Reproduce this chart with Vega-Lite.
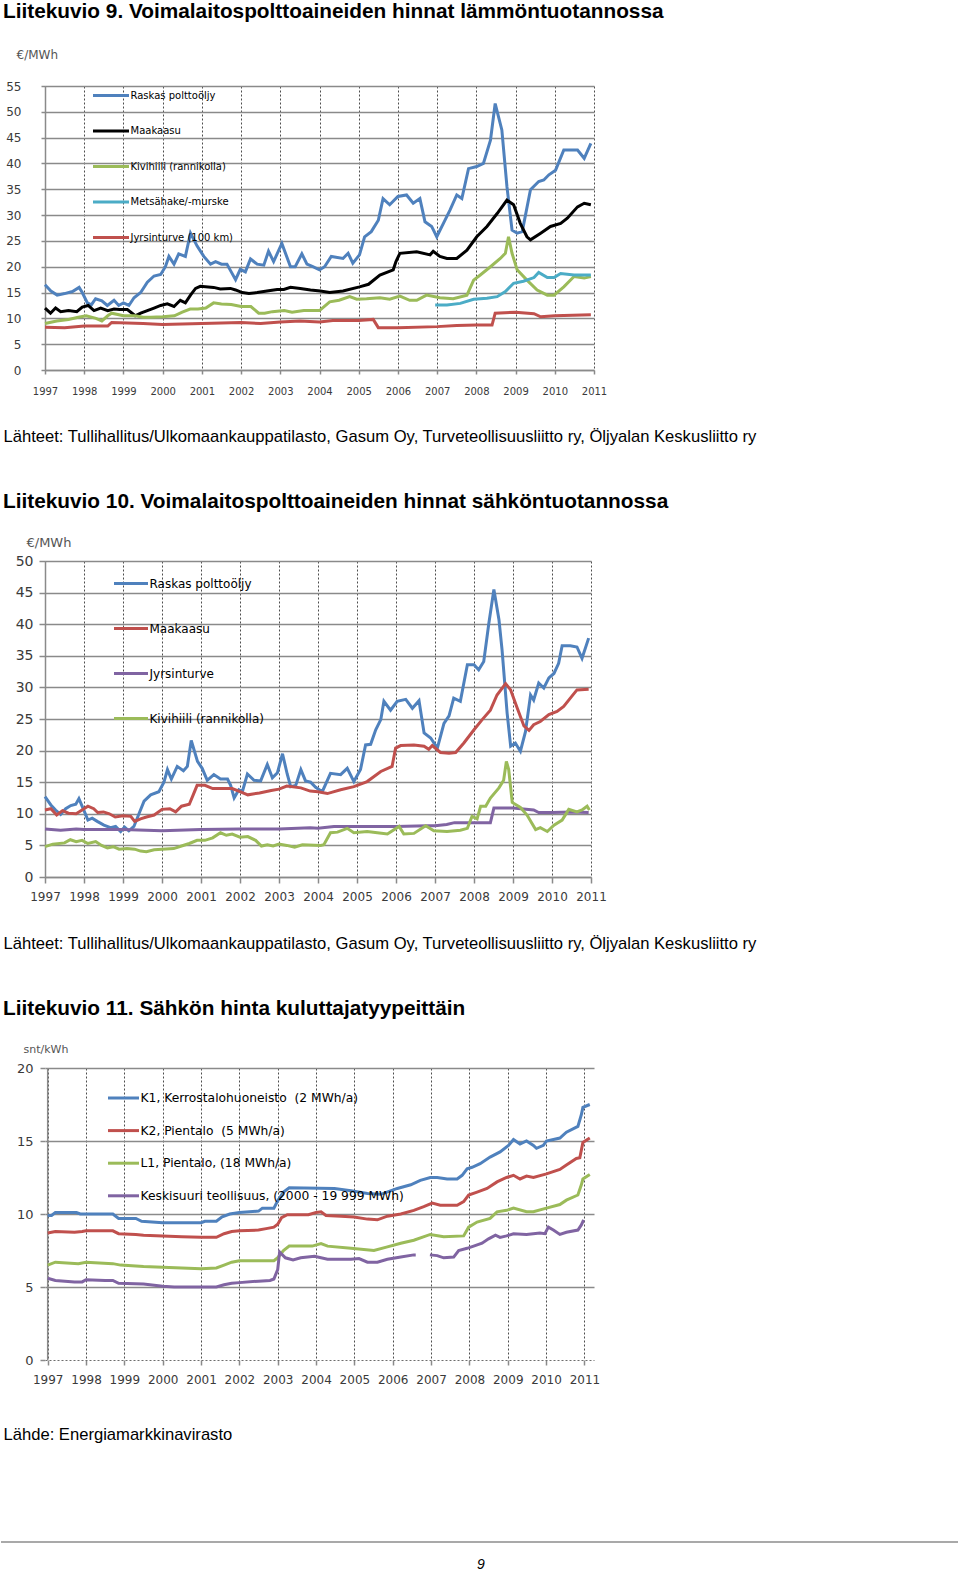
{
"$schema": "https://vega.github.io/schema/vega-lite/v6.json",
"background": "white",
"padding": {"left": 0, "top": 1, "right": 0, "bottom": 0},
"config": {
  "view": {"stroke": null},
  "font": "Liberation Sans",
  "title": {"anchor": "start", "frame": "group", "dx": -42, "font": "Liberation Sans", "fontSize": 20.8, "fontWeight": "bold", "color": "black", "offset": 22},
  "axis": {"labelFont": "DejaVu Sans", "labelColor": "#3a3a3a", "domainColor": "#8a8a8a", "domainWidth": 1.5, "tickColor": "#8a8a8a", "tickWidth": 1.5, "titleFont": "Liberation Sans", "titleFontWeight": "normal", "titleColor": "black"},
  "axisX": {"grid": true, "gridDash": [2, 2], "gridColor": "#4d4d4d", "gridWidth": 1, "labelAngle": 0, "labelFlush": false, "labelOverlap": false, "format": "d"},
  "axisY": {"grid": true, "gridColor": "#8a8a8a", "gridWidth": 1.5, "labelOverlap": false},
  "legend": {"orient": "none", "direction": "vertical", "title": null, "symbolType": "stroke", "symbolStrokeWidth": 3, "labelFont": "DejaVu Sans", "labelColor": "black", "labelOffset": 0, "labelLimit": 600, "symbolOffset": 0, "padding": 0, "offset": 0}
},
"datasets": {
"c1": [
{"s":"a","t":1997.0,"v":16.5},{"s":"a","t":1997.15,"v":15.3},{"s":"a","t":1997.31,"v":14.5},{"s":"a","t":1997.5,"v":14.8},{"s":"a","t":1997.7,"v":15.2},{"s":"a","t":1997.87,"v":16.0},{"s":"a","t":1997.95,"v":15.0},{"s":"a","t":1998.08,"v":13.0},{"s":"a","t":1998.18,"v":12.6},{"s":"a","t":1998.29,"v":13.8},{"s":"a","t":1998.45,"v":13.4},{"s":"a","t":1998.59,"v":12.5},{"s":"a","t":1998.76,"v":13.5},{"s":"a","t":1998.88,"v":12.5},{"s":"a","t":1999.0,"v":13.0},{"s":"a","t":1999.14,"v":12.5},{"s":"a","t":1999.27,"v":14.0},{"s":"a","t":1999.44,"v":15.0},{"s":"a","t":1999.61,"v":17.0},{"s":"a","t":1999.78,"v":18.2},{"s":"a","t":1999.95,"v":18.5},{"s":"a","t":2000.07,"v":20.0},{"s":"a","t":2000.16,"v":22.0},{"s":"a","t":2000.29,"v":20.5},{"s":"a","t":2000.41,"v":22.5},{"s":"a","t":2000.58,"v":22.0},{"s":"a","t":2000.71,"v":26.5},{"s":"a","t":2000.88,"v":24.0},{"s":"a","t":2001.05,"v":22.0},{"s":"a","t":2001.22,"v":20.5},{"s":"a","t":2001.35,"v":21.0},{"s":"a","t":2001.5,"v":20.5},{"s":"a","t":2001.64,"v":20.5},{"s":"a","t":2001.86,"v":17.5},{"s":"a","t":2001.98,"v":19.5},{"s":"a","t":2002.11,"v":19.0},{"s":"a","t":2002.24,"v":21.5},{"s":"a","t":2002.41,"v":20.5},{"s":"a","t":2002.58,"v":20.3},{"s":"a","t":2002.7,"v":23.0},{"s":"a","t":2002.83,"v":21.0},{"s":"a","t":2003.04,"v":24.5},{"s":"a","t":2003.26,"v":20.0},{"s":"a","t":2003.38,"v":20.0},{"s":"a","t":2003.55,"v":22.5},{"s":"a","t":2003.68,"v":20.5},{"s":"a","t":2003.83,"v":20.0},{"s":"a","t":2004.0,"v":19.4},{"s":"a","t":2004.13,"v":20.0},{"s":"a","t":2004.3,"v":22.0},{"s":"a","t":2004.6,"v":21.6},{"s":"a","t":2004.73,"v":22.6},{"s":"a","t":2004.85,"v":20.7},{"s":"a","t":2005.02,"v":22.3},{"s":"a","t":2005.15,"v":25.8},{"s":"a","t":2005.32,"v":26.8},{"s":"a","t":2005.5,"v":29.0},{"s":"a","t":2005.62,"v":33.2},{"s":"a","t":2005.79,"v":32.0},{"s":"a","t":2006.0,"v":33.6},{"s":"a","t":2006.22,"v":33.9},{"s":"a","t":2006.39,"v":32.3},{"s":"a","t":2006.56,"v":33.2},{"s":"a","t":2006.69,"v":28.7},{"s":"a","t":2006.86,"v":27.8},{"s":"a","t":2006.99,"v":25.8},{"s":"a","t":2007.16,"v":28.4},{"s":"a","t":2007.33,"v":31.0},{"s":"a","t":2007.5,"v":33.9},{"s":"a","t":2007.63,"v":33.2},{"s":"a","t":2007.8,"v":39.0},{"s":"a","t":2008.01,"v":39.4},{"s":"a","t":2008.18,"v":40.0},{"s":"a","t":2008.36,"v":44.5},{"s":"a","t":2008.48,"v":51.6},{"s":"a","t":2008.65,"v":46.5},{"s":"a","t":2008.78,"v":35.5},{"s":"a","t":2008.91,"v":27.1},{"s":"a","t":2009.04,"v":26.5},{"s":"a","t":2009.17,"v":26.8},{"s":"a","t":2009.38,"v":34.9},{"s":"a","t":2009.59,"v":36.5},{"s":"a","t":2009.72,"v":36.8},{"s":"a","t":2009.85,"v":37.8},{"s":"a","t":2010.02,"v":38.7},{"s":"a","t":2010.23,"v":42.6},{"s":"a","t":2010.58,"v":42.6},{"s":"a","t":2010.75,"v":41.0},{"s":"a","t":2010.92,"v":43.9},
{"s":"b","t":1997.0,"v":12.0},{"s":"b","t":1997.14,"v":11.0},{"s":"b","t":1997.27,"v":12.0},{"s":"b","t":1997.4,"v":11.3},{"s":"b","t":1997.6,"v":11.5},{"s":"b","t":1997.81,"v":11.3},{"s":"b","t":1997.95,"v":12.2},{"s":"b","t":1998.1,"v":12.5},{"s":"b","t":1998.25,"v":11.5},{"s":"b","t":1998.42,"v":12.0},{"s":"b","t":1998.6,"v":11.5},{"s":"b","t":1998.76,"v":11.8},{"s":"b","t":1998.9,"v":11.7},{"s":"b","t":1999.1,"v":11.7},{"s":"b","t":1999.22,"v":11.0},{"s":"b","t":1999.3,"v":10.5},{"s":"b","t":1999.44,"v":11.0},{"s":"b","t":1999.61,"v":11.5},{"s":"b","t":1999.78,"v":12.0},{"s":"b","t":1999.95,"v":12.5},{"s":"b","t":2000.12,"v":12.8},{"s":"b","t":2000.29,"v":12.3},{"s":"b","t":2000.45,"v":13.5},{"s":"b","t":2000.58,"v":13.0},{"s":"b","t":2000.71,"v":14.5},{"s":"b","t":2000.84,"v":15.8},{"s":"b","t":2000.96,"v":16.2},{"s":"b","t":2001.3,"v":16.0},{"s":"b","t":2001.47,"v":15.7},{"s":"b","t":2001.73,"v":15.8},{"s":"b","t":2001.86,"v":15.5},{"s":"b","t":2002.03,"v":15.0},{"s":"b","t":2002.2,"v":14.8},{"s":"b","t":2002.41,"v":15.0},{"s":"b","t":2002.66,"v":15.3},{"s":"b","t":2002.92,"v":15.6},{"s":"b","t":2003.09,"v":15.6},{"s":"b","t":2003.26,"v":16.0},{"s":"b","t":2003.51,"v":15.8},{"s":"b","t":2003.77,"v":15.5},{"s":"b","t":2004.02,"v":15.3},{"s":"b","t":2004.26,"v":15.0},{"s":"b","t":2004.6,"v":15.3},{"s":"b","t":2005.02,"v":16.1},{"s":"b","t":2005.25,"v":16.6},{"s":"b","t":2005.54,"v":18.4},{"s":"b","t":2005.88,"v":19.4},{"s":"b","t":2005.95,"v":21.0},{"s":"b","t":2006.05,"v":22.6},{"s":"b","t":2006.48,"v":22.9},{"s":"b","t":2006.82,"v":22.3},{"s":"b","t":2006.9,"v":23.0},{"s":"b","t":2007.07,"v":22.0},{"s":"b","t":2007.25,"v":21.6},{"s":"b","t":2007.5,"v":21.6},{"s":"b","t":2007.76,"v":23.2},{"s":"b","t":2008.01,"v":25.8},{"s":"b","t":2008.27,"v":27.8},{"s":"b","t":2008.53,"v":30.3},{"s":"b","t":2008.78,"v":32.9},{"s":"b","t":2008.95,"v":32.0},{"s":"b","t":2009.12,"v":28.4},{"s":"b","t":2009.29,"v":25.8},{"s":"b","t":2009.38,"v":25.2},{"s":"b","t":2009.64,"v":26.5},{"s":"b","t":2009.89,"v":27.8},{"s":"b","t":2010.15,"v":28.4},{"s":"b","t":2010.32,"v":29.4},{"s":"b","t":2010.58,"v":31.6},{"s":"b","t":2010.75,"v":32.3},{"s":"b","t":2010.92,"v":32.0},
{"s":"c","t":1997.0,"v":9.0},{"s":"c","t":1997.3,"v":9.5},{"s":"c","t":1997.6,"v":9.8},{"s":"c","t":1997.85,"v":10.2},{"s":"c","t":1998.05,"v":10.5},{"s":"c","t":1998.3,"v":10.0},{"s":"c","t":1998.45,"v":9.5},{"s":"c","t":1998.6,"v":10.5},{"s":"c","t":1998.7,"v":11.0},{"s":"c","t":1999.0,"v":10.5},{"s":"c","t":1999.3,"v":10.5},{"s":"c","t":1999.5,"v":10.2},{"s":"c","t":1999.7,"v":10.2},{"s":"c","t":2000.0,"v":10.3},{"s":"c","t":2000.3,"v":10.5},{"s":"c","t":2000.5,"v":11.2},{"s":"c","t":2000.7,"v":11.8},{"s":"c","t":2000.9,"v":11.8},{"s":"c","t":2001.1,"v":12.0},{"s":"c","t":2001.3,"v":13.0},{"s":"c","t":2001.5,"v":12.8},{"s":"c","t":2001.75,"v":12.7},{"s":"c","t":2002.0,"v":12.3},{"s":"c","t":2002.25,"v":12.3},{"s":"c","t":2002.45,"v":11.0},{"s":"c","t":2002.6,"v":11.0},{"s":"c","t":2002.8,"v":11.3},{"s":"c","t":2003.1,"v":11.5},{"s":"c","t":2003.3,"v":11.2},{"s":"c","t":2003.6,"v":11.5},{"s":"c","t":2004.0,"v":11.5},{"s":"c","t":2004.26,"v":13.2},{"s":"c","t":2004.5,"v":13.5},{"s":"c","t":2004.77,"v":14.2},{"s":"c","t":2004.95,"v":13.7},{"s":"c","t":2005.2,"v":13.8},{"s":"c","t":2005.54,"v":14.0},{"s":"c","t":2005.79,"v":13.7},{"s":"c","t":2006.05,"v":14.3},{"s":"c","t":2006.3,"v":13.5},{"s":"c","t":2006.48,"v":13.5},{"s":"c","t":2006.73,"v":14.5},{"s":"c","t":2007.07,"v":14.0},{"s":"c","t":2007.41,"v":13.8},{"s":"c","t":2007.76,"v":14.5},{"s":"c","t":2007.93,"v":17.4},{"s":"c","t":2008.1,"v":18.4},{"s":"c","t":2008.36,"v":20.0},{"s":"c","t":2008.61,"v":21.6},{"s":"c","t":2008.74,"v":22.6},{"s":"c","t":2008.82,"v":25.8},{"s":"c","t":2008.91,"v":22.6},{"s":"c","t":2009.04,"v":19.4},{"s":"c","t":2009.29,"v":17.4},{"s":"c","t":2009.55,"v":15.5},{"s":"c","t":2009.81,"v":14.5},{"s":"c","t":2009.98,"v":14.5},{"s":"c","t":2010.23,"v":16.1},{"s":"c","t":2010.49,"v":18.1},{"s":"c","t":2010.75,"v":17.8},{"s":"c","t":2010.92,"v":18.1},
{"s":"d","t":2006.95,"v":12.6},{"s":"d","t":2007.25,"v":12.6},{"s":"d","t":2007.59,"v":12.9},{"s":"d","t":2007.93,"v":13.7},{"s":"d","t":2008.27,"v":13.9},{"s":"d","t":2008.53,"v":14.2},{"s":"d","t":2008.74,"v":15.2},{"s":"d","t":2008.95,"v":16.8},{"s":"d","t":2009.2,"v":17.2},{"s":"d","t":2009.47,"v":17.9},{"s":"d","t":2009.59,"v":18.9},{"s":"d","t":2009.81,"v":17.9},{"s":"d","t":2009.98,"v":17.9},{"s":"d","t":2010.15,"v":18.7},{"s":"d","t":2010.49,"v":18.4},{"s":"d","t":2010.92,"v":18.4},
{"s":"e","t":1997.0,"v":8.3},{"s":"e","t":1997.5,"v":8.2},{"s":"e","t":1998.0,"v":8.5},{"s":"e","t":1998.6,"v":8.5},{"s":"e","t":1998.7,"v":9.2},{"s":"e","t":1999.5,"v":9.0},{"s":"e","t":2000.0,"v":8.8},{"s":"e","t":2001.0,"v":9.0},{"s":"e","t":2002.0,"v":9.2},{"s":"e","t":2002.5,"v":9.0},{"s":"e","t":2003.0,"v":9.3},{"s":"e","t":2003.5,"v":9.5},{"s":"e","t":2004.0,"v":9.3},{"s":"e","t":2004.34,"v":9.6},{"s":"e","t":2005.0,"v":9.6},{"s":"e","t":2005.37,"v":9.8},{"s":"e","t":2005.5,"v":8.2},{"s":"e","t":2006.0,"v":8.2},{"s":"e","t":2007.0,"v":8.4},{"s":"e","t":2007.5,"v":8.6},{"s":"e","t":2008.0,"v":8.7},{"s":"e","t":2008.4,"v":8.7},{"s":"e","t":2008.48,"v":11.0},{"s":"e","t":2009.0,"v":11.2},{"s":"e","t":2009.47,"v":10.9},{"s":"e","t":2009.64,"v":10.3},{"s":"e","t":2010.0,"v":10.5},{"s":"e","t":2010.92,"v":10.7}
],
"c2": [
{"s":"a","t":1997.0,"v":12.7},{"s":"a","t":1997.15,"v":11.4},{"s":"a","t":1997.27,"v":10.6},{"s":"a","t":1997.4,"v":9.9},{"s":"a","t":1997.53,"v":10.8},{"s":"a","t":1997.66,"v":11.3},{"s":"a","t":1997.79,"v":11.5},{"s":"a","t":1997.87,"v":12.4},{"s":"a","t":1998.0,"v":10.5},{"s":"a","t":1998.1,"v":9.0},{"s":"a","t":1998.21,"v":9.3},{"s":"a","t":1998.34,"v":8.8},{"s":"a","t":1998.51,"v":8.2},{"s":"a","t":1998.68,"v":7.8},{"s":"a","t":1998.81,"v":8.0},{"s":"a","t":1998.94,"v":7.2},{"s":"a","t":1999.04,"v":7.9},{"s":"a","t":1999.15,"v":7.3},{"s":"a","t":1999.28,"v":8.0},{"s":"a","t":1999.41,"v":10.0},{"s":"a","t":1999.54,"v":12.0},{"s":"a","t":1999.71,"v":13.0},{"s":"a","t":1999.92,"v":13.5},{"s":"a","t":2000.05,"v":15.0},{"s":"a","t":2000.14,"v":17.0},{"s":"a","t":2000.24,"v":15.5},{"s":"a","t":2000.39,"v":17.5},{"s":"a","t":2000.55,"v":16.8},{"s":"a","t":2000.65,"v":17.5},{"s":"a","t":2000.75,"v":21.6},{"s":"a","t":2000.91,"v":18.3},{"s":"a","t":2001.03,"v":17.2},{"s":"a","t":2001.16,"v":15.3},{"s":"a","t":2001.33,"v":16.2},{"s":"a","t":2001.5,"v":15.5},{"s":"a","t":2001.68,"v":15.5},{"s":"a","t":2001.76,"v":14.5},{"s":"a","t":2001.85,"v":12.5},{"s":"a","t":2001.97,"v":13.8},{"s":"a","t":2002.06,"v":13.5},{"s":"a","t":2002.19,"v":16.3},{"s":"a","t":2002.36,"v":15.3},{"s":"a","t":2002.53,"v":15.2},{"s":"a","t":2002.7,"v":17.8},{"s":"a","t":2002.83,"v":15.7},{"s":"a","t":2002.96,"v":16.5},{"s":"a","t":2003.09,"v":19.5},{"s":"a","t":2003.21,"v":16.3},{"s":"a","t":2003.3,"v":14.3},{"s":"a","t":2003.43,"v":14.5},{"s":"a","t":2003.56,"v":17.0},{"s":"a","t":2003.68,"v":15.2},{"s":"a","t":2003.81,"v":15.0},{"s":"a","t":2003.94,"v":14.2},{"s":"a","t":2004.11,"v":13.5},{"s":"a","t":2004.32,"v":16.4},{"s":"a","t":2004.58,"v":16.2},{"s":"a","t":2004.75,"v":17.2},{"s":"a","t":2004.92,"v":15.1},{"s":"a","t":2005.09,"v":17.0},{"s":"a","t":2005.22,"v":20.9},{"s":"a","t":2005.35,"v":21.0},{"s":"a","t":2005.48,"v":23.3},{"s":"a","t":2005.61,"v":24.9},{"s":"a","t":2005.69,"v":27.8},{"s":"a","t":2005.86,"v":26.4},{"s":"a","t":2006.03,"v":27.8},{"s":"a","t":2006.25,"v":28.1},{"s":"a","t":2006.42,"v":26.7},{"s":"a","t":2006.59,"v":27.9},{"s":"a","t":2006.72,"v":22.8},{"s":"a","t":2006.89,"v":22.0},{"s":"a","t":2007.06,"v":20.4},{"s":"a","t":2007.23,"v":24.3},{"s":"a","t":2007.36,"v":25.5},{"s":"a","t":2007.48,"v":28.3},{"s":"a","t":2007.65,"v":27.8},{"s":"a","t":2007.83,"v":33.6},{"s":"a","t":2008.0,"v":33.6},{"s":"a","t":2008.12,"v":32.8},{"s":"a","t":2008.25,"v":34.1},{"s":"a","t":2008.38,"v":40.1},{"s":"a","t":2008.51,"v":45.5},{"s":"a","t":2008.64,"v":40.7},{"s":"a","t":2008.72,"v":35.9},{"s":"a","t":2008.85,"v":25.9},{"s":"a","t":2008.94,"v":20.7},{"s":"a","t":2009.06,"v":21.2},{"s":"a","t":2009.19,"v":19.9},{"s":"a","t":2009.32,"v":23.0},{"s":"a","t":2009.45,"v":28.8},{"s":"a","t":2009.53,"v":28.0},{"s":"a","t":2009.66,"v":30.7},{"s":"a","t":2009.79,"v":29.9},{"s":"a","t":2009.92,"v":31.5},{"s":"a","t":2010.05,"v":32.2},{"s":"a","t":2010.17,"v":33.8},{"s":"a","t":2010.26,"v":36.6},{"s":"a","t":2010.47,"v":36.6},{"s":"a","t":2010.64,"v":36.4},{"s":"a","t":2010.77,"v":34.6},{"s":"a","t":2010.94,"v":37.8},
{"s":"b","t":1997.0,"v":10.6},{"s":"b","t":1997.15,"v":10.8},{"s":"b","t":1997.3,"v":9.8},{"s":"b","t":1997.45,"v":10.5},{"s":"b","t":1997.6,"v":10.1},{"s":"b","t":1997.8,"v":10.0},{"s":"b","t":1998.0,"v":10.8},{"s":"b","t":1998.1,"v":11.2},{"s":"b","t":1998.25,"v":10.8},{"s":"b","t":1998.35,"v":10.2},{"s":"b","t":1998.5,"v":10.3},{"s":"b","t":1998.65,"v":10.0},{"s":"b","t":1998.8,"v":9.5},{"s":"b","t":1999.0,"v":9.7},{"s":"b","t":1999.2,"v":9.6},{"s":"b","t":1999.3,"v":8.8},{"s":"b","t":1999.45,"v":9.2},{"s":"b","t":1999.6,"v":9.5},{"s":"b","t":1999.8,"v":9.8},{"s":"b","t":2000.0,"v":10.7},{"s":"b","t":2000.2,"v":10.8},{"s":"b","t":2000.35,"v":10.3},{"s":"b","t":2000.5,"v":11.2},{"s":"b","t":2000.7,"v":11.5},{"s":"b","t":2000.8,"v":13.0},{"s":"b","t":2000.9,"v":14.5},{"s":"b","t":2001.1,"v":14.5},{"s":"b","t":2001.3,"v":14.0},{"s":"b","t":2001.6,"v":14.0},{"s":"b","t":2001.8,"v":14.0},{"s":"b","t":2002.0,"v":13.5},{"s":"b","t":2002.2,"v":13.0},{"s":"b","t":2002.5,"v":13.3},{"s":"b","t":2002.8,"v":13.7},{"s":"b","t":2003.0,"v":13.9},{"s":"b","t":2003.2,"v":14.4},{"s":"b","t":2003.56,"v":14.1},{"s":"b","t":2003.8,"v":13.6},{"s":"b","t":2004.0,"v":13.5},{"s":"b","t":2004.24,"v":13.2},{"s":"b","t":2004.58,"v":13.8},{"s":"b","t":2004.92,"v":14.3},{"s":"b","t":2005.26,"v":15.1},{"s":"b","t":2005.61,"v":16.7},{"s":"b","t":2005.9,"v":17.5},{"s":"b","t":2005.99,"v":20.4},{"s":"b","t":2006.12,"v":20.8},{"s":"b","t":2006.46,"v":20.9},{"s":"b","t":2006.72,"v":20.7},{"s":"b","t":2006.84,"v":20.2},{"s":"b","t":2006.93,"v":20.8},{"s":"b","t":2007.14,"v":19.7},{"s":"b","t":2007.36,"v":19.6},{"s":"b","t":2007.53,"v":19.7},{"s":"b","t":2007.74,"v":21.2},{"s":"b","t":2008.0,"v":23.3},{"s":"b","t":2008.21,"v":24.9},{"s":"b","t":2008.42,"v":26.4},{"s":"b","t":2008.59,"v":28.8},{"s":"b","t":2008.81,"v":30.6},{"s":"b","t":2008.94,"v":29.6},{"s":"b","t":2009.11,"v":26.7},{"s":"b","t":2009.28,"v":23.9},{"s":"b","t":2009.41,"v":23.2},{"s":"b","t":2009.53,"v":24.1},{"s":"b","t":2009.7,"v":24.6},{"s":"b","t":2009.92,"v":25.7},{"s":"b","t":2010.13,"v":26.2},{"s":"b","t":2010.3,"v":27.0},{"s":"b","t":2010.47,"v":28.3},{"s":"b","t":2010.64,"v":29.6},{"s":"b","t":2010.94,"v":29.7},
{"s":"c","t":1997.0,"v":7.6},{"s":"c","t":1997.4,"v":7.4},{"s":"c","t":1997.8,"v":7.6},{"s":"c","t":1998.0,"v":7.5},{"s":"c","t":1999.0,"v":7.5},{"s":"c","t":2000.0,"v":7.3},{"s":"c","t":2001.0,"v":7.5},{"s":"c","t":2002.0,"v":7.6},{"s":"c","t":2003.0,"v":7.6},{"s":"c","t":2003.8,"v":7.8},{"s":"c","t":2004.0,"v":7.7},{"s":"c","t":2004.41,"v":8.0},{"s":"c","t":2005.0,"v":8.0},{"s":"c","t":2006.0,"v":8.0},{"s":"c","t":2006.8,"v":8.1},{"s":"c","t":2007.0,"v":8.1},{"s":"c","t":2007.3,"v":8.3},{"s":"c","t":2007.5,"v":8.6},{"s":"c","t":2008.42,"v":8.6},{"s":"c","t":2008.51,"v":10.9},{"s":"c","t":2009.0,"v":10.9},{"s":"c","t":2009.53,"v":10.6},{"s":"c","t":2009.66,"v":10.2},{"s":"c","t":2010.0,"v":10.2},{"s":"c","t":2010.5,"v":10.3},{"s":"c","t":2010.94,"v":10.2},
{"s":"d","t":1997.0,"v":4.8},{"s":"d","t":1997.2,"v":5.2},{"s":"d","t":1997.5,"v":5.4},{"s":"d","t":1997.65,"v":5.9},{"s":"d","t":1997.8,"v":5.6},{"s":"d","t":1997.95,"v":5.8},{"s":"d","t":1998.1,"v":5.3},{"s":"d","t":1998.3,"v":5.6},{"s":"d","t":1998.45,"v":5.0},{"s":"d","t":1998.6,"v":4.6},{"s":"d","t":1998.75,"v":4.8},{"s":"d","t":1998.9,"v":4.4},{"s":"d","t":1999.1,"v":4.5},{"s":"d","t":1999.3,"v":4.4},{"s":"d","t":1999.45,"v":4.1},{"s":"d","t":1999.6,"v":4.0},{"s":"d","t":1999.8,"v":4.3},{"s":"d","t":2000.0,"v":4.4},{"s":"d","t":2000.3,"v":4.5},{"s":"d","t":2000.5,"v":4.9},{"s":"d","t":2000.7,"v":5.3},{"s":"d","t":2000.9,"v":5.8},{"s":"d","t":2001.1,"v":5.8},{"s":"d","t":2001.3,"v":6.2},{"s":"d","t":2001.5,"v":7.0},{"s":"d","t":2001.65,"v":6.6},{"s":"d","t":2001.8,"v":6.8},{"s":"d","t":2002.0,"v":6.3},{"s":"d","t":2002.2,"v":6.4},{"s":"d","t":2002.4,"v":5.8},{"s":"d","t":2002.55,"v":4.9},{"s":"d","t":2002.7,"v":5.1},{"s":"d","t":2002.85,"v":4.9},{"s":"d","t":2003.0,"v":5.2},{"s":"d","t":2003.2,"v":5.0},{"s":"d","t":2003.4,"v":4.7},{"s":"d","t":2003.6,"v":5.1},{"s":"d","t":2004.07,"v":5.0},{"s":"d","t":2004.15,"v":5.1},{"s":"d","t":2004.32,"v":7.0},{"s":"d","t":2004.5,"v":7.1},{"s":"d","t":2004.75,"v":7.7},{"s":"d","t":2004.92,"v":7.0},{"s":"d","t":2005.26,"v":7.2},{"s":"d","t":2005.52,"v":7.0},{"s":"d","t":2005.78,"v":6.8},{"s":"d","t":2006.08,"v":8.0},{"s":"d","t":2006.2,"v":6.8},{"s":"d","t":2006.46,"v":6.9},{"s":"d","t":2006.76,"v":8.1},{"s":"d","t":2006.97,"v":7.3},{"s":"d","t":2007.31,"v":7.2},{"s":"d","t":2007.65,"v":7.4},{"s":"d","t":2007.83,"v":7.7},{"s":"d","t":2007.95,"v":9.6},{"s":"d","t":2008.08,"v":9.2},{"s":"d","t":2008.17,"v":11.2},{"s":"d","t":2008.3,"v":11.2},{"s":"d","t":2008.42,"v":12.5},{"s":"d","t":2008.64,"v":14.1},{"s":"d","t":2008.76,"v":15.3},{"s":"d","t":2008.83,"v":18.3},{"s":"d","t":2008.89,"v":17.0},{"s":"d","t":2008.98,"v":11.8},{"s":"d","t":2009.19,"v":11.0},{"s":"d","t":2009.36,"v":9.8},{"s":"d","t":2009.58,"v":7.5},{"s":"d","t":2009.7,"v":7.8},{"s":"d","t":2009.88,"v":7.2},{"s":"d","t":2010.05,"v":8.2},{"s":"d","t":2010.26,"v":9.0},{"s":"d","t":2010.43,"v":10.7},{"s":"d","t":2010.64,"v":10.3},{"s":"d","t":2010.77,"v":10.6},{"s":"d","t":2010.9,"v":11.2},{"s":"d","t":2010.96,"v":10.6}
],
"c3": [
{"s":"a","t":1997.0,"v":9.9},{"s":"a","t":1997.1,"v":9.9},{"s":"a","t":1997.2,"v":10.1},{"s":"a","t":1997.75,"v":10.1},{"s":"a","t":1997.85,"v":10.0},{"s":"a","t":1998.7,"v":10.0},{"s":"a","t":1998.85,"v":9.7},{"s":"a","t":1999.3,"v":9.7},{"s":"a","t":1999.45,"v":9.5},{"s":"a","t":2000.0,"v":9.4},{"s":"a","t":2001.0,"v":9.4},{"s":"a","t":2001.1,"v":9.5},{"s":"a","t":2001.4,"v":9.5},{"s":"a","t":2001.55,"v":9.8},{"s":"a","t":2001.75,"v":10.0},{"s":"a","t":2002.0,"v":10.1},{"s":"a","t":2002.5,"v":10.2},{"s":"a","t":2002.6,"v":10.4},{"s":"a","t":2002.9,"v":10.4},{"s":"a","t":2003.0,"v":10.9},{"s":"a","t":2003.15,"v":11.5},{"s":"a","t":2003.3,"v":11.8},{"s":"a","t":2004.48,"v":11.75},{"s":"a","t":2004.91,"v":11.6},{"s":"a","t":2005.34,"v":11.4},{"s":"a","t":2005.69,"v":11.35},{"s":"a","t":2006.12,"v":11.75},{"s":"a","t":2006.47,"v":12.0},{"s":"a","t":2006.72,"v":12.3},{"s":"a","t":2006.98,"v":12.5},{"s":"a","t":2007.16,"v":12.5},{"s":"a","t":2007.42,"v":12.4},{"s":"a","t":2007.68,"v":12.4},{"s":"a","t":2007.81,"v":12.65},{"s":"a","t":2007.94,"v":13.1},{"s":"a","t":2008.07,"v":13.2},{"s":"a","t":2008.28,"v":13.45},{"s":"a","t":2008.54,"v":13.9},{"s":"a","t":2008.8,"v":14.25},{"s":"a","t":2009.02,"v":14.7},{"s":"a","t":2009.15,"v":15.1},{"s":"a","t":2009.32,"v":14.8},{"s":"a","t":2009.49,"v":15.0},{"s":"a","t":2009.67,"v":14.7},{"s":"a","t":2009.75,"v":14.5},{"s":"a","t":2009.93,"v":14.7},{"s":"a","t":2010.01,"v":15.0},{"s":"a","t":2010.36,"v":15.2},{"s":"a","t":2010.53,"v":15.6},{"s":"a","t":2010.83,"v":16.0},{"s":"a","t":2010.92,"v":16.8},{"s":"a","t":2010.96,"v":17.3},{"s":"a","t":2011.14,"v":17.5},
{"s":"b","t":1997.0,"v":8.7},{"s":"b","t":1997.2,"v":8.8},{"s":"b","t":1997.7,"v":8.75},{"s":"b","t":1997.9,"v":8.8},{"s":"b","t":1998.0,"v":8.85},{"s":"b","t":1998.7,"v":8.85},{"s":"b","t":1998.85,"v":8.65},{"s":"b","t":1999.3,"v":8.6},{"s":"b","t":1999.5,"v":8.55},{"s":"b","t":2000.0,"v":8.5},{"s":"b","t":2000.5,"v":8.45},{"s":"b","t":2001.0,"v":8.4},{"s":"b","t":2001.4,"v":8.4},{"s":"b","t":2001.6,"v":8.65},{"s":"b","t":2001.8,"v":8.8},{"s":"b","t":2002.0,"v":8.85},{"s":"b","t":2002.5,"v":8.9},{"s":"b","t":2002.7,"v":9.0},{"s":"b","t":2002.9,"v":9.1},{"s":"b","t":2003.0,"v":9.3},{"s":"b","t":2003.1,"v":9.75},{"s":"b","t":2003.25,"v":9.95},{"s":"b","t":2003.8,"v":9.95},{"s":"b","t":2004.0,"v":10.1},{"s":"b","t":2004.13,"v":10.15},{"s":"b","t":2004.26,"v":9.9},{"s":"b","t":2004.65,"v":9.85},{"s":"b","t":2004.99,"v":9.8},{"s":"b","t":2005.34,"v":9.65},{"s":"b","t":2005.6,"v":9.6},{"s":"b","t":2005.86,"v":9.85},{"s":"b","t":2006.21,"v":10.0},{"s":"b","t":2006.55,"v":10.25},{"s":"b","t":2006.81,"v":10.5},{"s":"b","t":2007.03,"v":10.75},{"s":"b","t":2007.24,"v":10.6},{"s":"b","t":2007.68,"v":10.6},{"s":"b","t":2007.85,"v":10.85},{"s":"b","t":2007.98,"v":11.3},{"s":"b","t":2008.2,"v":11.5},{"s":"b","t":2008.46,"v":11.75},{"s":"b","t":2008.72,"v":12.2},{"s":"b","t":2008.97,"v":12.5},{"s":"b","t":2009.15,"v":12.65},{"s":"b","t":2009.32,"v":12.4},{"s":"b","t":2009.49,"v":12.6},{"s":"b","t":2009.67,"v":12.5},{"s":"b","t":2010.01,"v":12.75},{"s":"b","t":2010.36,"v":13.05},{"s":"b","t":2010.53,"v":13.35},{"s":"b","t":2010.79,"v":13.8},{"s":"b","t":2010.88,"v":13.85},{"s":"b","t":2010.96,"v":14.9},{"s":"b","t":2011.14,"v":15.2},
{"s":"c","t":1997.0,"v":6.5},{"s":"c","t":1997.2,"v":6.7},{"s":"c","t":1997.8,"v":6.6},{"s":"c","t":1998.0,"v":6.7},{"s":"c","t":1998.7,"v":6.6},{"s":"c","t":1998.9,"v":6.5},{"s":"c","t":1999.5,"v":6.4},{"s":"c","t":2000.0,"v":6.35},{"s":"c","t":2001.0,"v":6.25},{"s":"c","t":2001.4,"v":6.3},{"s":"c","t":2001.6,"v":6.5},{"s":"c","t":2001.8,"v":6.7},{"s":"c","t":2002.0,"v":6.8},{"s":"c","t":2002.9,"v":6.8},{"s":"c","t":2003.0,"v":7.0},{"s":"c","t":2003.15,"v":7.5},{"s":"c","t":2003.3,"v":7.8},{"s":"c","t":2003.9,"v":7.8},{"s":"c","t":2004.13,"v":7.98},{"s":"c","t":2004.3,"v":7.8},{"s":"c","t":2004.91,"v":7.65},{"s":"c","t":2005.51,"v":7.5},{"s":"c","t":2005.86,"v":7.75},{"s":"c","t":2006.21,"v":8.0},{"s":"c","t":2006.55,"v":8.2},{"s":"c","t":2006.98,"v":8.6},{"s":"c","t":2007.33,"v":8.45},{"s":"c","t":2007.85,"v":8.5},{"s":"c","t":2007.98,"v":9.1},{"s":"c","t":2008.2,"v":9.45},{"s":"c","t":2008.54,"v":9.7},{"s":"c","t":2008.72,"v":10.15},{"s":"c","t":2008.97,"v":10.25},{"s":"c","t":2009.15,"v":10.4},{"s":"c","t":2009.49,"v":10.15},{"s":"c","t":2009.67,"v":10.15},{"s":"c","t":2010.01,"v":10.4},{"s":"c","t":2010.36,"v":10.65},{"s":"c","t":2010.53,"v":10.95},{"s":"c","t":2010.83,"v":11.3},{"s":"c","t":2010.92,"v":12.0},{"s":"c","t":2010.96,"v":12.4},{"s":"c","t":2011.14,"v":12.7},
{"s":"d","p":1,"t":1997.0,"v":5.6},{"s":"d","p":1,"t":1997.2,"v":5.45},{"s":"d","p":1,"t":1997.7,"v":5.35},{"s":"d","p":1,"t":1997.9,"v":5.35},{"s":"d","p":1,"t":1998.0,"v":5.5},{"s":"d","p":1,"t":1998.5,"v":5.45},{"s":"d","p":1,"t":1998.7,"v":5.45},{"s":"d","p":1,"t":1998.85,"v":5.25},{"s":"d","p":1,"t":1999.5,"v":5.2},{"s":"d","p":1,"t":2000.0,"v":5.05},{"s":"d","p":1,"t":2000.3,"v":5.0},{"s":"d","p":1,"t":2001.0,"v":5.0},{"s":"d","p":1,"t":2001.4,"v":5.0},{"s":"d","p":1,"t":2001.6,"v":5.15},{"s":"d","p":1,"t":2001.8,"v":5.25},{"s":"d","p":1,"t":2002.0,"v":5.3},{"s":"d","p":1,"t":2002.5,"v":5.4},{"s":"d","p":1,"t":2002.8,"v":5.45},{"s":"d","p":1,"t":2002.9,"v":5.55},{"s":"d","p":1,"t":2003.0,"v":6.2},{"s":"d","p":1,"t":2003.05,"v":7.4},{"s":"d","p":1,"t":2003.2,"v":7.0},{"s":"d","p":1,"t":2003.4,"v":6.85},{"s":"d","p":1,"t":2003.6,"v":7.0},{"s":"d","p":1,"t":2003.96,"v":7.1},{"s":"d","p":1,"t":2004.3,"v":6.9},{"s":"d","p":1,"t":2004.91,"v":6.9},{"s":"d","p":1,"t":2005.12,"v":6.95},{"s":"d","p":1,"t":2005.34,"v":6.7},{"s":"d","p":1,"t":2005.6,"v":6.7},{"s":"d","p":1,"t":2005.86,"v":6.9},{"s":"d","p":1,"t":2006.21,"v":7.05},{"s":"d","p":1,"t":2006.55,"v":7.2},{"s":"d","p":1,"t":2006.6,"v":7.2},
{"s":"d","p":2,"t":2006.97,"v":7.2},{"s":"d","p":2,"t":2007.16,"v":7.15},{"s":"d","p":2,"t":2007.33,"v":7.0},{"s":"d","p":2,"t":2007.59,"v":7.05},{"s":"d","p":2,"t":2007.72,"v":7.5},{"s":"d","p":2,"t":2007.94,"v":7.65},{"s":"d","p":2,"t":2008.11,"v":7.8},{"s":"d","p":2,"t":2008.33,"v":8.0},{"s":"d","p":2,"t":2008.5,"v":8.3},{"s":"d","p":2,"t":2008.68,"v":8.55},{"s":"d","p":2,"t":2008.8,"v":8.4},{"s":"d","p":2,"t":2008.97,"v":8.5},{"s":"d","p":2,"t":2009.15,"v":8.65},{"s":"d","p":2,"t":2009.49,"v":8.6},{"s":"d","p":2,"t":2009.84,"v":8.7},{"s":"d","p":2,"t":2009.97,"v":8.65},{"s":"d","p":2,"t":2010.06,"v":9.1},{"s":"d","p":2,"t":2010.19,"v":8.9},{"s":"d","p":2,"t":2010.36,"v":8.6},{"s":"d","p":2,"t":2010.53,"v":8.75},{"s":"d","p":2,"t":2010.83,"v":8.9},{"s":"d","p":2,"t":2010.92,"v":9.25},{"s":"d","p":2,"t":2010.98,"v":9.6}
],
"foot": [{"sivu": "9"}],
"axis3": [{"t": 1997}]
},
"vconcat": [
{
"vconcat": [
{
  "title": {"text": "Liitekuvio 9. Voimalaitospolttoaineiden hinnat lämmöntuotannossa", "offset": 25},
  "data": {"name": "c1"},
  "width": 549, "height": 284,
  "mark": {"type": "line", "strokeWidth": 3, "clip": false},
  "encoding": {
    "x": {"field": "t", "type": "quantitative", "scale": {"domain": [1997, 2011], "nice": false, "zero": false},
      "axis": {"values": [1997,1998,1999,2000,2001,2002,2003,2004,2005,2006,2007,2008,2009,2010,2011], "labelFontSize": 10, "tickSize": 4, "labelPadding": 12,
        "title": "Lähteet: Tullihallitus/Ulkomaankauppatilasto, Gasum Oy, Turveteollisuusliitto ry, Öljyalan Keskusliitto ry", "titleFontSize": 16.6, "titleAlign": "left", "titleBaseline": "middle", "titleAnchor": "start", "titleX": -42, "titleY": 66}},
    "y": {"field": "v", "type": "quantitative", "scale": {"domain": [0, 55], "nice": false},
      "axis": {"values": [0,5,10,15,20,25,30,35,40,45,50,55], "labelFontSize": 12, "tickSize": 4, "labelPadding": 20,
        "title": "€/MWh", "titleFont": "DejaVu Sans", "titleFontSize": 12, "titleColor": "#555555", "titleAngle": 0, "titleAlign": "left", "titleBaseline": "middle", "titleX": -29, "titleY": -32}},
    "color": {"field": "s", "type": "nominal",
      "scale": {"domain": ["a","b","c","d","e"], "range": ["#4F81BD", "#000000", "#9BBB59", "#4BACC6", "#C0504D"]},
      "legend": {"legendX": 46.5, "legendY": -10, "symbolSize": 1296, "labelFontSize": 10, "rowPadding": 9.5,
        "labelExpr": "datum.label == 'a' ? 'Raskas polttoöljy' : datum.label == 'b' ? 'Maakaasu' : datum.label == 'c' ? 'Kivihiili (rannikolla)' : datum.label == 'd' ? 'Metsähake/-murske' : 'Jyrsinturve (100 km)'"}}
  }
},
{
  "title": {"text": "Liitekuvio 10. Voimalaitospolttoaineiden hinnat sähköntuotannossa", "offset": 23},
  "data": {"name": "c2"},
  "width": 546, "height": 316,
  "mark": {"type": "line", "strokeWidth": 3, "clip": false},
  "encoding": {
    "x": {"field": "t", "type": "quantitative", "scale": {"domain": [1997, 2011], "nice": false, "zero": false},
      "axis": {"values": [1997,1998,1999,2000,2001,2002,2003,2004,2005,2006,2007,2008,2009,2010,2011], "labelFontSize": 12, "tickSize": 6, "labelPadding": 8,
        "title": "Lähteet: Tullihallitus/Ulkomaankauppatilasto, Gasum Oy, Turveteollisuusliitto ry, Öljyalan Keskusliitto ry", "titleFontSize": 16.6, "titleAlign": "left", "titleBaseline": "middle", "titleAnchor": "start", "titleX": -42, "titleY": 66}},
    "y": {"field": "v", "type": "quantitative", "scale": {"domain": [0, 50], "nice": false},
      "axis": {"values": [0,5,10,15,20,25,30,35,40,45,50], "labelFontSize": 14, "tickSize": 6, "labelPadding": 6,
        "title": "€/MWh", "titleFont": "DejaVu Sans", "titleFontSize": 13, "titleColor": "#555555", "titleAngle": 0, "titleAlign": "left", "titleBaseline": "middle", "titleX": -19, "titleY": -19}},
    "color": {"field": "s", "type": "nominal",
      "scale": {"domain": ["a","b","c","d"], "range": ["#4F81BD", "#C0504D", "#8064A2", "#9BBB59"]},
      "legend": {"legendX": 67.5, "legendY": 4, "symbolSize": 1156, "labelFontSize": 12, "rowPadding": 20,
        "labelExpr": "datum.label == 'a' ? 'Raskas polttoöljy' : datum.label == 'b' ? 'Maakaasu' : datum.label == 'c' ? 'Jyrsinturve' : 'Kivihiili (rannikolla)'"}}
  }
},
{
  "title": {"text": "Liitekuvio 11. Sähkön hinta kuluttajatyypeittäin", "offset": 23},
  "width": 549, "height": 292,
  "encoding": {
    "x": {"field": "t", "type": "quantitative", "scale": {"domain": [1996.93, 2011.25], "nice": false, "zero": false},
      "axis": {"values": [1997,1998,1999,2000,2001,2002,2003,2004,2005,2006,2007,2008,2009,2010,2011], "labelFontSize": 12, "tickSize": 5, "labelPadding": 9, "domainDash": [2, 2], "domainColor": "#6d6d6d", "domainWidth": 1,
        "title": "Lähde: Energiamarkkinavirasto", "titleFontSize": 16.6, "titleAlign": "left", "titleBaseline": "middle", "titleAnchor": "start", "titleX": -42, "titleY": 74}}
  },
  "layer": [
    {
      "data": {"name": "axis3"},
      "mark": {"type": "rule", "color": "#8a8a8a", "strokeWidth": 1.5}
    },
    {
      "data": {"name": "c3"},
      "mark": {"type": "line", "strokeWidth": 3, "clip": false},
      "encoding": {
        "y": {"field": "v", "type": "quantitative", "scale": {"domain": [0, 20], "nice": false},
          "axis": {"values": [0,5,10,15,20], "labelFontSize": 13, "tickSize": 5, "labelPadding": 7, "domain": false,
            "gridOpacity": {"condition": {"test": "datum.value == 0", "value": 0}, "value": 1},
            "title": "snt/kWh", "titleFont": "DejaVu Sans", "titleFontSize": 11, "titleColor": "#555555", "titleAngle": 0, "titleAlign": "left", "titleBaseline": "middle", "titleX": -22, "titleY": -19}},
        "color": {"field": "s", "type": "nominal",
          "scale": {"domain": ["a","b","c","d"], "range": ["#4F81BD", "#C0504D", "#9BBB59", "#8064A2"]},
          "legend": {"legendX": 61.5, "legendY": 13, "symbolSize": 961, "labelFontSize": 12.3, "rowPadding": 8.6,
            "labelExpr": "datum.label == 'a' ? 'K1, Kerrostalohuoneisto \u00a0(2 MWh/a)' : datum.label == 'b' ? 'K2, Pientalo \u00a0(5 MWh/a)' : datum.label == 'c' ? 'L1, Pientalo, (18 MWh/a)' : 'Keskisuuri teollisuus, (2000 - 19 999 MWh)'"}},
        "detail": {"field": "p", "type": "nominal"}
      }
    }
  ]
}
],
"spacing": 46,
"resolve": {"scale": {"color": "independent", "x": "independent", "y": "independent"}, "legend": {"color": "independent"}}
},
{
  "data": {"name": "foot"},
  "width": 913, "height": 30,
  "layer": [
    {"mark": {"type": "rule", "color": "#8c8c8c", "strokeWidth": 1.5, "clip": false},
     "encoding": {"x": {"datum": -0.0482, "type": "quantitative", "scale": {"domain": [0, 1]}, "axis": null}, "x2": {"datum": 1},
                  "y": {"datum": 1, "type": "quantitative", "scale": {"domain": [0, 1]}, "axis": null}}},
    {"mark": {"type": "text", "font": "Liberation Sans", "fontSize": 14, "fontStyle": "italic", "clip": false},
     "encoding": {"text": {"field": "sivu"}, "x": {"datum": 0.4775, "type": "quantitative", "scale": {"domain": [0, 1]}, "axis": null},
                  "y": {"datum": 0.22, "type": "quantitative", "scale": {"domain": [0, 1]}, "axis": null}}}
  ]
}
],
"spacing": 98,
"resolve": {"scale": {"color": "independent", "x": "independent", "y": "independent"}, "legend": {"color": "independent"}}
}
